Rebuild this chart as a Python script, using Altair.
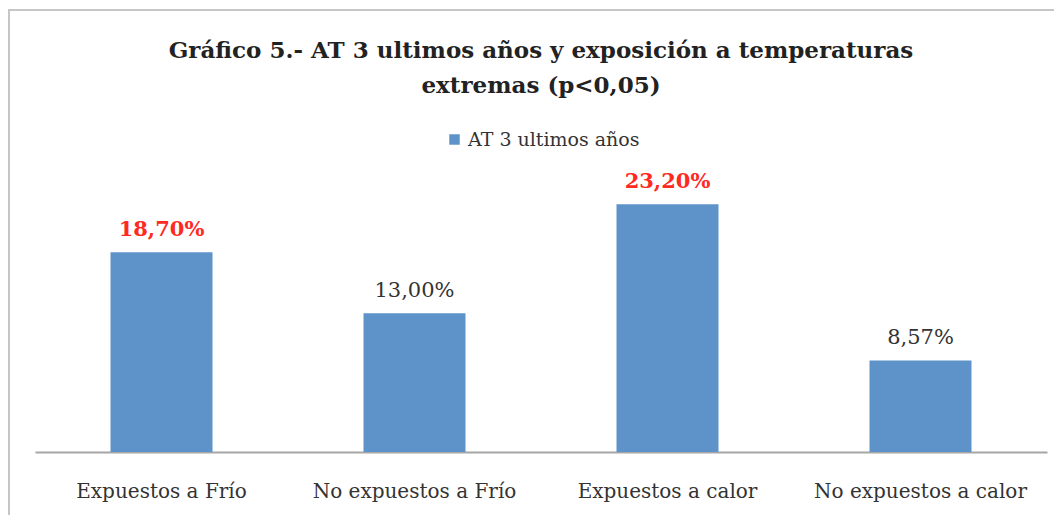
import altair as alt
import pandas as pd

categories = ["Expuestos a Frío", "No expuestos a Frío", "Expuestos a calor", "No expuestos a calor"]
values = [18.70, 13.00, 23.20, 8.57]
value_labels = ["18,70%", "13,00%", "23,20%", "8,57%"]
significant = [True, False, True, False]
series_name = "AT 3 ultimos años"
title_lines = ["Gráfico 5.- AT 3 ultimos años y exposición a temperaturas", "extremas (p<0,05)"]

df = pd.DataFrame({
    "cat": categories,
    "val": values,
    "lab": value_labels,
    "sig": significant,
    "serie": [series_name] * len(categories),
})

BLUE = "#5e93c9"
RED = "#ff2a1f"
FONT = "DejaVu Serif"

x_enc = alt.X("cat:N", sort=categories, title=None,
              scale=alt.Scale(paddingInner=0.597, paddingOuter=0.2985),
              axis=alt.Axis(labelAngle=0, ticks=False, domainColor="#a6a6a6", domainWidth=2,
                            labelFont=FONT, labelFontSize=20, labelColor="#333333",
                            labelPadding=29, labelLimit=500, grid=False))
y_enc = alt.Y("val:Q", title=None, scale=alt.Scale(domain=[0, 25], nice=False), axis=None)

base = alt.Chart(df)

bars = base.mark_bar(size=102).encode(
    x=x_enc,
    y=y_enc,
    color=alt.Color("serie:N", scale=alt.Scale(range=[BLUE]),
                    legend=alt.Legend(title=None, orient="none", legendX=410, legendY=-55,
                                      symbolType="square", symbolSize=110, labelFont=FONT,
                                      labelFontSize=19, labelColor="#333333", labelLimit=400)),
)

txt_sig = base.transform_filter("datum.sig").mark_text(
    baseline="bottom", dy=-12, font=FONT, fontSize=21, fontWeight="bold", color=RED
).encode(x=alt.X("cat:N", sort=categories), y="val:Q", text="lab:N")

txt_ns = base.transform_filter("!datum.sig").mark_text(
    baseline="bottom", dy=-12, font=FONT, fontSize=21, color="#333333"
).encode(x=alt.X("cat:N", sort=categories), y="val:Q", text="lab:N")

border = alt.Chart(pd.DataFrame({"a": [0]})).mark_rect(
    fill=None, stroke="#c6c6c6", strokeWidth=2
).encode(x=alt.value(-26), x2=alt.value(1040), y=alt.value(-175), y2=alt.value(340))

chart = alt.layer(border, bars, txt_sig, txt_ns).properties(
    width=1012, height=267,
    background="white",
    title=alt.TitleParams(title_lines, anchor="middle", font=FONT, fontSize=23,
                          fontWeight="bold", color="#222222", offset=-89, lineHeight=35),
    autosize=alt.AutoSizeParams(type="none"),
    padding={"left": 27, "top": 177, "right": 7, "bottom": 63},
).configure_view(stroke=None)

chart.save("out.html", embed_options={"renderer": "svg", "actions": False})
